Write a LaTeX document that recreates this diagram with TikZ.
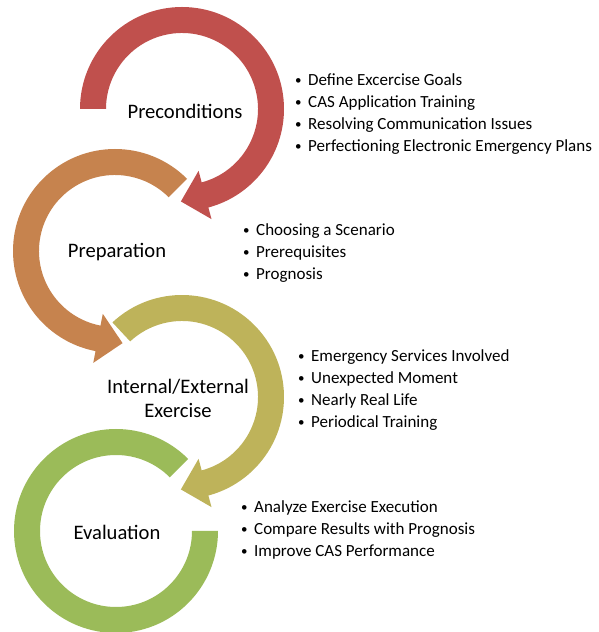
\documentclass[tikz,border=0pt]{standalone}
\usepackage{fontspec}
\setmainfont{Carlito}
\usetikzlibrary{calc}

\definecolor{arcred}{HTML}{C0504D}
\definecolor{arcorange}{HTML}{C6834E}
\definecolor{arcolive}{HTML}{BEB35A}
\definecolor{arcgreen}{HTML}{9BBB59}

% band round a centre, with arrow head at its end (#2 start, #3 end, #4 = side of the head)
\newcommand{\bandarrow}[5]{%
  \fill[#5] ($(#1)+(#2:102)$) arc[start angle=#2, end angle=#3, radius=102]
    -- ($(#1)+(#3:114)$) -- ($(#1)+(#3:89)+({#3+#4}:25)$) -- ($(#1)+(#3:64)$)
    -- ($(#1)+(#3:76)$) arc[start angle=#3, end angle=#2, radius=76] -- cycle;}
\newcommand{\bul}{\makebox[13pt][l]{\raisebox{1.2pt}{\fontsize{13}{13}\selectfont\textbullet}}}

\begin{document}
\begin{tikzpicture}[x=1pt, y=1pt,
    title/.style={font=\fontsize{20.6}{24}\selectfont, align=center, inner sep=0pt},
    items/.style={font=\fontsize{17}{22}\selectfont, align=left, inner sep=0pt, anchor=west}]
      \useasboundingbox (0,0) rectangle (599,632);

      \coordinate (c1) at (182,523);
      \coordinate (c2) at (115,381);
      \coordinate (c3) at (182,235);
      \coordinate (c4) at (116,101);

      \bandarrow{c1}{180}{-75}{-90}{arcred}
      \bandarrow{c2}{45}{259}{90}{arcorange}
      \bandarrow{c3}{133}{-75}{-90}{arcolive}
      \fill[arcgreen] ($(c4)+(45:102)$) arc[start angle=45, end angle=360, radius=102]
        -- ($(c4)+(0:76)$) arc[start angle=360, end angle=45, radius=76] -- cycle;

      \node[title] (pre) at ([xshift=3pt, yshift=-2pt]c1) {Preconditions};
      \node[title] (prep) at ([xshift=2pt, yshift=-1pt]c2) {Preparation};
      \node[title] (exer) at ([xshift=-4pt, yshift=-1pt]c3) {Internal/External\\Exercise};
      \node[title] (eval) at ([xshift=1pt, yshift=-1pt]c4) {Evaluation};

      \node[items] (prelist) at (295,517.7) {\bul Define Excercise Goals\\
        \bul CAS Application Training\\
        \bul Resolving Communication Issues\\
        \bul Perfectioning Electronic Emergency Plans};
      \node[items] (preplist) at (243,379) {\bul Choosing a Scenario\\
        \bul Prerequisites\\
        \bul Prognosis};
      \node[items] (exerlist) at (298,242) {\bul Emergency Services Involved\\
        \bul Unexpected Moment\\
        \bul Nearly Real Life\\
        \bul Periodical Training};
      \node[items] (evallist) at (241,102) {\bul Analyze Exercise Execution\\
        \bul Compare Results with Prognosis\\
        \bul Improve CAS Performance};
    \end{tikzpicture}
\end{document}
